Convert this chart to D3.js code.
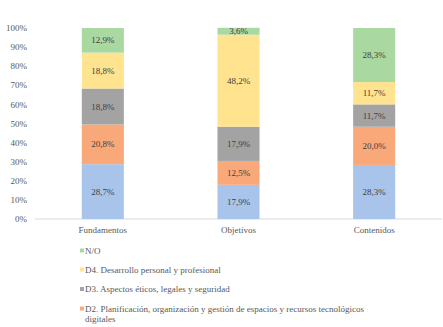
<!DOCTYPE html>
<html>
<head>
<meta charset="utf-8">
<script src="https://cdn.jsdelivr.net/npm/d3@7"></script>
<style>
body { margin: 0; background: #fff; }
svg { font-family: "Liberation Serif", "DejaVu Serif", serif; }
</style>
</head>
<body>
<svg id="chart" width="443" height="327"></svg>
<script>
const categories = ["Fundamentos", "Objetivos", "Contenidos"];
const seriesNames = ["D1", "D2", "D3", "D4", "N/O"];
const d1 = [28.7, 17.9, 28.3];
const d2 = [20.8, 12.5, 20.0];
const d3v = [18.8, 17.9, 11.7];
const d4 = [18.8, 48.2, 11.7];
const no = [12.9, 3.6, 28.3];
const colors = ["#a9c4ea", "#f9a87a", "#a3a3a3", "#ffe38f", "#a9d8a0"];
const yTicks = [0, 10, 20, 30, 40, 50, 60, 70, 80, 90, 100];
const legendItems = [
  {name: "N/O", color: colors[4], lines: ["N/O"]},
  {name: "D4", color: colors[3], lines: ["D4. Desarrollo personal y profesional"]},
  {name: "D3", color: colors[2], lines: ["D3. Aspectos éticos, legales y seguridad"]},
  {name: "D2", color: colors[1], lines: ["D2. Planificación, organización y gestión de espacios y recursos tecnológicos", "digitales"]}
];

const svg = d3.select("#chart");
const rows = categories.map((c, i) => ({cat: c, D1: d1[i], D2: d2[i], D3: d3v[i], D4: d4[i], "N/O": no[i]}));
const stack = d3.stack().keys(seriesNames)(rows);

const x = d3.scaleBand().domain(categories).range([35, 442]).paddingInner(0.69).paddingOuter(0.345);
const y = d3.scaleLinear().domain([0, 100]).range([219, 28]);
const fmt = v => v.toFixed(1).replace(".", ",") + "%";

// y axis labels
svg.append("g").selectAll("text").data(yTicks).enter().append("text")
  .attr("x", 27).attr("y", d => y(d)).attr("dy", "0.35em")
  .attr("text-anchor", "end").attr("font-size", 9).attr("fill", "#595959")
  .text(d => d + "%");

// baseline
svg.append("line").attr("x1", 35).attr("x2", 442).attr("y1", y(0)).attr("y2", y(0))
  .attr("stroke", "#d9d9d9").attr("stroke-width", 1);

const layers = svg.selectAll("g.layer").data(stack).enter().append("g")
  .attr("class", "layer").attr("fill", (d, i) => colors[i]);

layers.selectAll("rect").data(d => d).enter().append("rect")
  .attr("x", d => x(d.data.cat)).attr("width", x.bandwidth())
  .attr("y", d => y(d[1])).attr("height", d => y(d[0]) - y(d[1]));

layers.selectAll("text").data(d => d.map(p => ({p: p, v: p[1] - p[0]}))).enter().append("text")
  .attr("x", d => x(d.p.data.cat) + x.bandwidth() / 2)
  .attr("y", d => (y(d.p[0]) + y(d.p[1])) / 2).attr("dy", "0.35em")
  .attr("text-anchor", "middle").attr("font-size", 9).attr("fill", "#404040")
  .text(d => fmt(d.v));

// category labels
svg.append("g").selectAll("text").data(categories).enter().append("text")
  .attr("x", d => x(d) + x.bandwidth() / 2).attr("y", 230).attr("dy", "0.35em")
  .attr("text-anchor", "middle").attr("font-size", 9).attr("fill", "#595959")
  .text(d => d);

// legend
const legendY = [250.5, 269.5, 289, 308.5];
const lg = svg.append("g").selectAll("g").data(legendItems).enter().append("g")
  .attr("transform", (d, i) => `translate(80,${legendY[i]})`);
lg.append("rect").attr("x", 0).attr("y", -2).attr("width", 4).attr("height", 4).attr("fill", d => d.color);
lg.each(function(d) {
  d3.select(this).selectAll("text").data(d.lines).enter().append("text")
    .attr("x", 5).attr("y", (l, j) => j * 10).attr("dy", "0.35em")
    .attr("font-size", 9).attr("fill", "#595959").text(l => l);
});
</script>
</body>
</html>
